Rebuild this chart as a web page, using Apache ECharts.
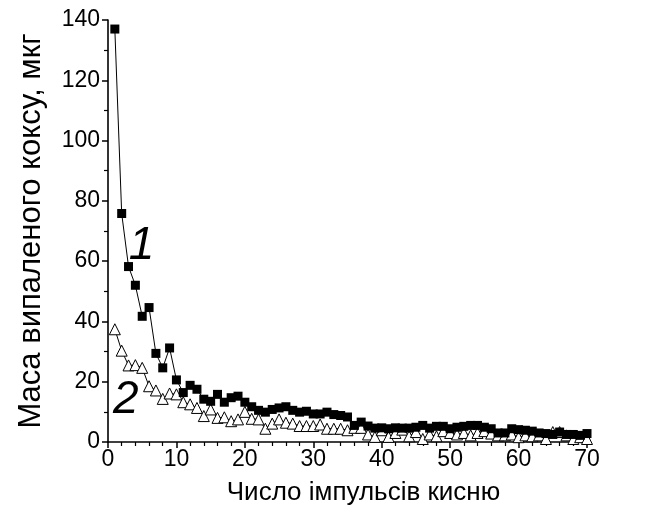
<!DOCTYPE html>
<html>
<head>
<meta charset="utf-8">
<script src="https://cdn.jsdelivr.net/npm/echarts@6/dist/echarts.min.js"></script>
<style>
  html, body { margin: 0; padding: 0; background: #fff; }
  #chart { width: 649px; height: 511px; }
</style>
</head>
<body>
<div id="chart"></div>
<script>
// Pulse numbers 1..70
const pulses = [
  1, 2, 3, 4, 5, 6, 7, 8, 9, 10,
  11, 12, 13, 14, 15, 16, 17, 18, 19, 20,
  21, 22, 23, 24, 25, 26, 27, 28, 29, 30,
  31, 32, 33, 34, 35, 36, 37, 38, 39, 40,
  41, 42, 43, 44, 45, 46, 47, 48, 49, 50,
  51, 52, 53, 54, 55, 56, 57, 58, 59, 60,
  61, 62, 63, 64, 65, 66, 67, 68, 69, 70
];

// Curve 1 (filled squares), burnt coke mass, µg
const curve1 = [
  137, 75.8, 58.2, 52.0, 41.7, 44.6, 29.4, 24.6, 31.2, 20.6,
  16.4, 18.8, 17.5, 14.2, 13.5, 15.8, 13.2, 14.7, 15.2, 13.2,
  11.7, 10.5, 9.9, 10.8, 11.3, 11.7, 10.5, 9.9, 10.2, 9.3,
  9.3, 9.9, 9.1, 8.8, 8.3, 5.5, 6.6, 5.3, 4.6, 4.7,
  4.4, 4.7, 4.6, 4.6, 4.9, 5.5, 4.6, 5.2, 5.2, 4.4,
  4.9, 5.2, 5.5, 5.5, 4.9, 4.4, 3.0, 3.0, 4.4, 4.1,
  3.9, 3.6, 3.0, 2.8, 2.5, 3.3, 2.5, 2.5, 2.2, 2.8
];

// Curve 2 (open triangles), burnt coke mass, µg
const curve2 = [
  37.4, 30.3, 25.4, 25.5, 24.6, 18.5, 17.1, 14.3, 16.1, 15.8,
  13.2, 12.5, 11.3, 8.6, 10.8, 8.0, 8.2, 6.9, 7.5, 10.0,
  7.7, 7.5, 4.4, 6.1, 7.5, 6.4, 6.1, 5.3, 5.3, 5.3,
  5.8, 4.4, 4.4, 4.4, 3.9, 4.7, 4.7, 2.5, 1.7, 3.9,
  1.7, 3.0, 4.1, 1.9, 3.3, 1.0, 2.5, 1.9, 3.6, 3.0,
  2.5, 3.0, 2.2, 3.0, 3.6, 2.8, 2.2, 2.2, 2.5, 1.6,
  2.2, 1.9, 2.2, 1.0, 3.3, 3.3, 2.2, 1.0, 1.6, 1.0
];

// Axis tick labels
const xTicks = [0, 10, 20, 30, 40, 50, 60, 70];
const yTicks = [0, 20, 40, 60, 80, 100, 120, 140];

// Curve captions and their anchor points in data units
const captions = [
  { text: '1', at: [4.9, 65.0] },
  { text: '2', at: [2.6, 14.0] }
];

const FONT = '"Liberation Sans", Arial, sans-serif';
const chart = echarts.init(document.getElementById('chart'), null, { renderer: 'canvas' });

const pair = (xs, ys) => xs.map((x, i) => [x, ys[i]]);

const axisCommon = {
  axisLine: { show: true, lineStyle: { color: '#000', width: 1.6 } },
  axisTick: { show: true, inside: false, length: 6, lineStyle: { color: '#000', width: 1.5 } },
  minorTick: { show: true, length: 4, lineStyle: { color: '#000', width: 1.2 } },
  splitLine: { show: false },
  axisLabel: { color: '#000', fontFamily: FONT, fontSize: 23 },
  nameTextStyle: { color: '#000', fontFamily: FONT }
};

chart.setOption({
  animation: false,
  backgroundColor: '#fff',
  grid: { left: 108, right: 62, top: 20, bottom: 68.5, containLabel: false },
  xAxis: Object.assign({}, axisCommon, {
    type: 'value',
    min: xTicks[0],
    max: xTicks[xTicks.length - 1],
    interval: xTicks[1] - xTicks[0],
    minorTick: Object.assign({}, axisCommon.minorTick, { splitNumber: 5 }),
    axisLabel: Object.assign({}, axisCommon.axisLabel, { margin: 6 }),
    name: 'Число імпульсів кисню',
    nameLocation: 'middle',
    nameGap: 38,
    nameTextStyle: Object.assign({}, axisCommon.nameTextStyle, { fontSize: 26, padding: [0, 0, 0, 32] })
  }),
  yAxis: Object.assign({}, axisCommon, {
    type: 'value',
    min: yTicks[0],
    max: yTicks[yTicks.length - 1],
    interval: yTicks[1] - yTicks[0],
    minorTick: Object.assign({}, axisCommon.minorTick, { splitNumber: 2 }),
    axisLabel: Object.assign({}, axisCommon.axisLabel, { margin: 8 }),
    name: 'Маса випаленого коксу, мкг',
    nameLocation: 'middle',
    nameGap: 61,
    nameTextStyle: Object.assign({}, axisCommon.nameTextStyle, { fontSize: 31 })
  }),
  series: [
    {
      name: '1',
      type: 'line',
      data: pair(pulses, curve1),
      symbol: 'rect',
      symbolSize: 9,
      showAllSymbol: true,
      lineStyle: { color: '#000', width: 1 },
      itemStyle: { color: '#000', borderColor: '#000', borderWidth: 0 },
      z: 3
    },
    {
      name: '2',
      type: 'line',
      data: pair(pulses, curve2),
      symbol: 'triangle',
      symbolSize: 11,
      showAllSymbol: true,
      lineStyle: { color: '#000', width: 1 },
      itemStyle: { color: '#fff', borderColor: '#000', borderWidth: 1 },
      z: 2
    }
  ]
});

// Place the curve numbers at their data anchors
function drawCaptions() {
  chart.setOption({
    graphic: captions.map(c => {
      const p = chart.convertToPixel({ gridIndex: 0 }, c.at);
      return {
        type: 'text',
        x: p[0],
        y: p[1],
        style: {
          text: c.text,
          fill: '#000',
          font: 'italic 46px ' + FONT,
          textAlign: 'center',
          textVerticalAlign: 'middle'
        },
        z: 10
      };
    })
  });
}
drawCaptions();
</script>
</body>
</html>
